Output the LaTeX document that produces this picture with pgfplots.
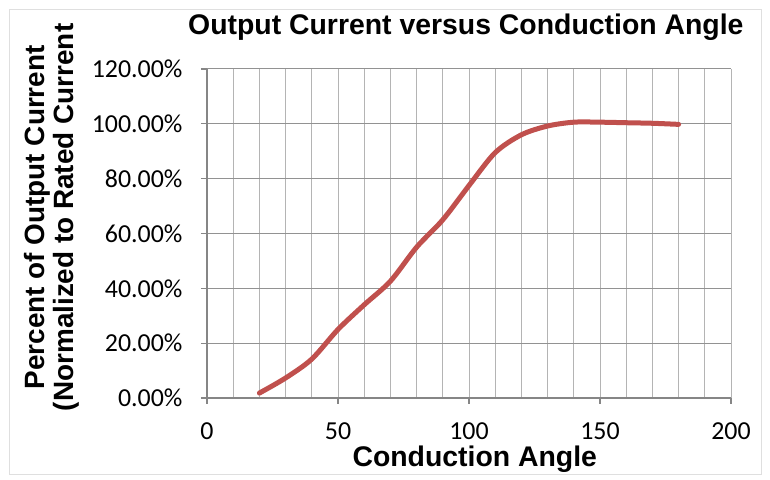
\documentclass[border=0pt]{standalone}
\usepackage{pgfplots}
\pgfplotsset{compat=1.18}
\usepackage{fontspec}
\setmainfont{Liberation Sans}
\newfontfamily\tickfont{Carlito}
\definecolor{linered}{HTML}{C0504D}
\definecolor{vgrid}{HTML}{B4B4B4}
\definecolor{hgrid}{HTML}{929292}
\definecolor{axisgray}{HTML}{868686}

\begin{document}
\begin{tikzpicture}[x=1bp,y=1bp]
  % page and chart frame
  \fill[white] (-207,-82) rectangle (563,398);
  \draw[gray!25, line width=0.8bp] (-198,-76) rectangle (554,389);

  \begin{axis}[
    at={(0,0)}, anchor=south west,
    scale only axis,
    width=524bp, height=329bp,
    xmin=0, xmax=200,
    ymin=0, ymax=120,
    xtick={0,50,...,200},
    ytick={0,20,...,120},
    minor x tick num=4,
    xmajorgrids, xminorgrids, ymajorgrids,
    major x grid style={vgrid, line width=1bp},
    minor x grid style={vgrid, line width=1bp},
    major y grid style={hgrid, line width=1bp},
    axis x line*=bottom,
    axis y line*=left,
    axis line style={axisgray, line width=1.2bp},
    tick style={axisgray, line width=1.2bp},
    major tick length=6bp,
    minor tick length=0pt,
    tick align=outside,
    /pgf/number format/assume math mode=true,
    ticklabel style={font=\tickfont\fontsize{26}{28}\selectfont},
    yticklabel={\pgfmathprintnumber[fixed,fixed zerofill,precision=2]{\tick}\%},
    xticklabel style={anchor=base, yshift=-36bp},
    yticklabel style={anchor=east, xshift=-15bp},
    title={\bfseries Output Current versus Conduction Angle},
    title style={font=\fontsize{28.5}{30}\selectfont, at={(0.494,1.088)}, anchor=base},
    xlabel={\bfseries Conduction Angle},
    xlabel style={font=\fontsize{28.5}{30}\selectfont, at={(0.511,-0.2097)}, anchor=base},
    ylabel={\bfseries\begin{tabular}{@{}c@{}}Percent of Output Current\\(Normalized to Rated Current\end{tabular}},
    ylabel style={font=\fontsize{28}{28}\selectfont, at={(-0.294,0.549)}, anchor=center},
  ]
    \addplot[linered, line width=5bp, smooth, tension=0.5, line cap=round] coordinates {
      (20,1.8) (30,7.3) (40,14.2) (50,25) (60,34) (70,42.6)
      (80,55) (90,65) (100,77.5) (110,89.5) (120,96) (130,99.2)
      (140,100.6) (150,100.6) (160,100.4) (170,100.2) (180,99.8)
    };
  \end{axis}
\end{tikzpicture}
\end{document}
